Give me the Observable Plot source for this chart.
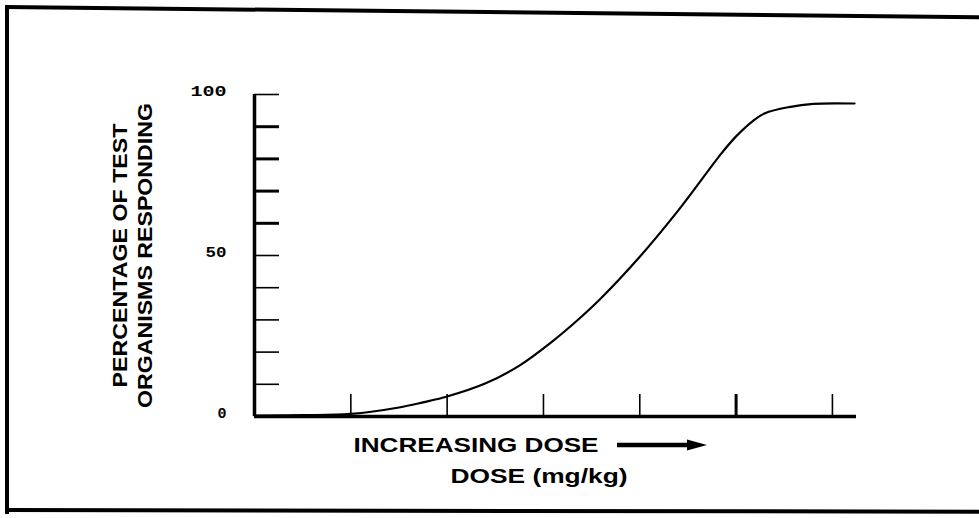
<!DOCTYPE html>
<html>
<head>
<meta charset="utf-8">
<script src="https://cdn.jsdelivr.net/npm/d3@7"></script>
<script src="https://cdn.jsdelivr.net/npm/@observablehq/plot@0.6"></script>
<style>
  html, body { margin: 0; padding: 0; background: #fff; }
  #wrap { position: relative; width: 979px; height: 518px; overflow: hidden; }
  .bl { position: absolute; background: #000; }
</style>
</head>
<body>
<div id="wrap"></div>
<script>
// ---- data ----
const doseValues = [0, 0.5, 1, 1.5, 1.75, 2, 2.4, 2.75, 3.1, 3.35, 3.6, 4, 4.4, 4.85, 5, 5.18, 5.3, 5.55, 5.8, 6.23];
const pctValues  = [0.3, 0.4, 0.8, 2.8, 4.4, 6.2, 10.3, 15.8, 23.5, 29.8, 36.8, 49.6, 64, 81.8, 87, 91.9, 94.2, 96.1, 97.1, 97.2];
const yTickLabels = [0, 50, 100];
const yTicksThin = [10, 20, 30, 40, 50, 100];
const yTicksThick = [60, 70, 80, 90];
const xTicksThin = [1, 2, 3, 4, 6];
const xTicksThick = [5];
const yLabelLine1 = "PERCENTAGE OF TEST";
const yLabelLine2 = "ORGANISMS RESPONDING";
const xLabelTop = "INCREASING DOSE";
const xLabelBottom = "DOSE (mg/kg)";

const curve = doseValues.map((d, i) => ({dose: d, pct: pctValues[i]}));

const labelFont = "'Liberation Sans', Arial, sans-serif";

function arrowMark(index, scales, values, dims) {
  const ns = "http://www.w3.org/2000/svg";
  const g = document.createElementNS(ns, "g");
  const x0 = dims.marginLeft + 363, y0 = dims.height - dims.marginBottom + 29;
  const line = document.createElementNS(ns, "line");
  line.setAttribute("x1", x0); line.setAttribute("x2", x0 + 74);
  line.setAttribute("y1", y0); line.setAttribute("y2", y0);
  line.setAttribute("stroke", "black"); line.setAttribute("stroke-width", 4.5);
  g.appendChild(line);
  const head = document.createElementNS(ns, "path");
  head.setAttribute("d", `M${x0 + 70},${y0 - 5.5}L${x0 + 90},${y0}L${x0 + 70},${y0 + 5.5}Z`);
  head.setAttribute("fill", "black");
  g.appendChild(head);
  return g;
}

const chart = Plot.plot({
  width: 979,
  height: 518,
  marginLeft: 254,
  marginRight: 123,
  marginTop: 94,
  marginBottom: 102,
  style: {background: "transparent", color: "black"},
  x: {domain: [0, 6.25], axis: null},
  y: {domain: [0, 100], axis: null},
  marks: [
    // y tick labels
    Plot.axisY(yTickLabels, {anchor: "left", tickSize: 0, tickPadding: 28, dy: -3,
      fontSize: 15, fontWeight: "bold", fontFamily: "'Liberation Mono', 'DejaVu Sans Mono', monospace",
      label: null}),
    // inward y ticks
    Plot.axisY(yTicksThin, {anchor: "left", tickSize: -25, text: null, strokeWidth: 1.6, label: null}),
    Plot.axisY(yTicksThick, {anchor: "left", tickSize: -25, text: null, strokeWidth: 3, label: null}),
    // upward x ticks
    Plot.axisX(xTicksThin, {anchor: "bottom", tickSize: -22, text: null, strokeWidth: 1.6, label: null}),
    Plot.axisX(xTicksThick, {anchor: "bottom", tickSize: -22, text: null, strokeWidth: 3, label: null}),
    // axis lines
    Plot.ruleX([0], {strokeWidth: 3.5}),
    Plot.ruleY([0], {strokeWidth: 3.5}),
    // dose-response curve
    Plot.line(curve, {x: "dose", y: "pct", curve: "catmull-rom", strokeWidth: 2.2}),
    // y axis title (two lines, rotated)
    Plot.text([yLabelLine1], {frameAnchor: "left", dx: -134, rotate: -90,
      textAnchor: "middle", lineAnchor: "middle",
      fontSize: 20.5, fontWeight: "bold", fontFamily: labelFont}),
    Plot.text([yLabelLine2], {frameAnchor: "left", dx: -109, rotate: -90,
      textAnchor: "middle", lineAnchor: "middle",
      fontSize: 20.5, fontWeight: "bold", fontFamily: labelFont}),
    // x axis titles
    Plot.text([xLabelTop], {frameAnchor: "bottom-left", dx: 99, dy: 29, textAnchor: "start", lineAnchor: "middle",
      fontSize: 21, fontWeight: "bold", fontFamily: labelFont}),
    Plot.text([xLabelBottom], {frameAnchor: "bottom-left", dx: 196, dy: 60, textAnchor: "start", lineAnchor: "middle",
      fontSize: 21, fontWeight: "bold", fontFamily: labelFont}),
    arrowMark
  ]
});

// stretch lettering to match the wide type of the original
const targetLengths = new Map([
  [xLabelTop, 245], [xLabelBottom, 177],
  [yLabelLine1, 264], [yLabelLine2, 305],
  ["100", 36], ["50", 21]
]);
chart.querySelectorAll("text").forEach(t => {
  const len = targetLengths.get(t.textContent);
  if (len) {
    t.setAttribute("textLength", len);
    t.setAttribute("lengthAdjust", "spacingAndGlyphs");
  }
});

const wrap = document.getElementById("wrap");
wrap.appendChild(chart);
chart.style.position = "absolute";
chart.style.left = "0px";
chart.style.top = "0px";

// hand-drawn looking frame around the figure
function bar(l, t, w, h, rot) {
  const d = document.createElement("div");
  d.className = "bl";
  d.style.left = l + "px"; d.style.top = t + "px";
  d.style.width = w + "px"; d.style.height = h + "px";
  if (rot) { d.style.transformOrigin = "0 0"; d.style.transform = `rotate(${rot}deg)`; }
  wrap.appendChild(d);
}
bar(5, 5, 1000, 4, 0.6);   // top
bar(5, 5, 4, 509, 0);      // left
bar(5, 508, 1000, 4, 0.1); // bottom
</script>
</body>
</html>
